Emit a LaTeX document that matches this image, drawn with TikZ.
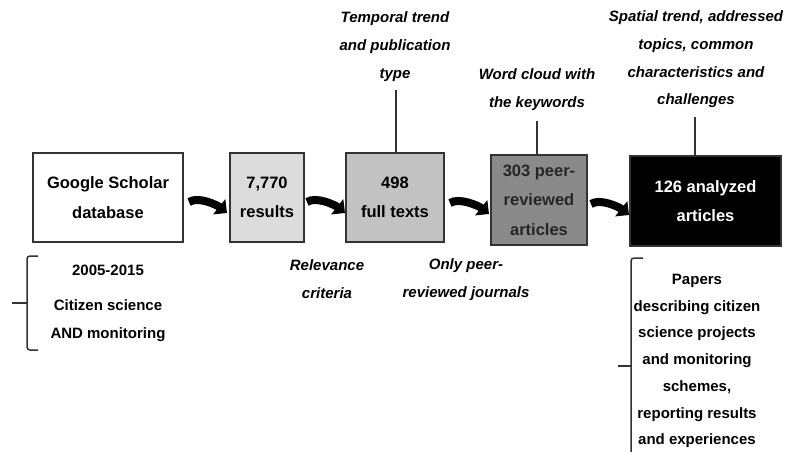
\documentclass[tikz,border=0pt]{standalone}
\usepackage{fontspec}
\setmainfont{Liberation Sans}
\usetikzlibrary{arrows.meta}
\definecolor{boxline}{HTML}{333333}
\definecolor{fillA}{HTML}{DCDCDC}
\definecolor{fillB}{HTML}{C2C2C2}
\definecolor{fillC}{HTML}{8A8A8A}
\tikzset{
  flowbox/.style={draw=boxline, line width=1.5pt, inner sep=0pt, align=center,
    font=\fontsize{16.5}{29.5}\selectfont\bfseries},
  note/.style={align=center, inner sep=0pt, font=\fontsize{15}{28}\selectfont\bfseries\itshape},
  plainnote/.style={align=center, inner sep=0pt, font=\fontsize{15}{28}\selectfont\bfseries},
  bentarrow/.style={line width=8pt, -{Triangle[length=10pt,width=19pt]}},
  stem/.style={line width=1.2pt, draw=boxline},
  bracket/.style={line width=1.5pt, draw=boxline, rounded corners=3pt}
}
\begin{document}
\begin{tikzpicture}[x=1pt,y=-1pt]
\useasboundingbox (0,0) rectangle (785,452);
% boxes
\node[flowbox, minimum width=150pt, minimum height=89pt] (b1) at (108,197.5) {Google Scholar\\database};
\node[flowbox, fill=fillA, minimum width=74pt, minimum height=89pt] (b2) at (267,197.5) {7,770\\results};
\node[flowbox, fill=fillB, minimum width=98pt, minimum height=89pt] (b3) at (395,197.5) {498\\full texts};
\node[flowbox, fill=fillC, text=black!85, minimum width=96pt, minimum height=90pt] (b4) at (539,200) {303 peer-\\reviewed\\articles};
\node[flowbox, fill=black, text=white, minimum width=151pt, minimum height=90pt] (b5) at (705.5,201) {126 analyzed\\articles};
% top notes
\node[note] (t3) at (395,46.5) {Temporal trend\\and publication\\type};
\node[note] (t4) at (537,90) {Word cloud with\\the keywords};
\node[note, font=\fontsize{15}{27.7}\selectfont\bfseries\itshape] (t5) at (696,59.5) {Spatial trend, addressed\\topics, common\\characteristics and\\challenges};
\coordinate (l3) at (396,90);
\coordinate (l4) at (537,121);
\coordinate (l5) at (695,117);
\draw[stem] (b3.north -| l3) -- (l3);
\draw[stem] (b4.north -| l4) -- (l4);
\draw[stem] (b5.north -| l5) -- (l5);
% bottom notes
\node[note] (n2) at (327,279) {Relevance\\criteria};
\node[note] (n3) at (466,279.5) {Only peer-\\reviewed journals};
\node[plainnote] (d1) at (108,270) {2005-2015};
\node[plainnote] (d2) at (108,321) {Citizen science\\AND monitoring};
\node[plainnote, font=\fontsize{15}{26.7}\selectfont\bfseries] (d5) at (697,361) {Papers\\describing citizen\\science projects\\and monitoring\\schemes,\\reporting results\\and experiences};
% bent arrows
\coordinate (a1s) at (189,202); \coordinate (a1e) at (227,213);
\coordinate (a2s) at (307,202); \coordinate (a2e) at (345,213);
\coordinate (a3s) at (450,203); \coordinate (a3e) at (489,214);
\coordinate (a4s) at (591,204); \coordinate (a4e) at (629,215);
\foreach \s/\e in {a1s/a1e,a2s/a2e,a3s/a3e,a4s/a4e}{
  \draw[bentarrow] (\s) .. controls +(9,-6) and +(-10,-8) .. (\e);
}
% brackets
\draw[bracket] (38,256) -- (27,256) -- (27,350) -- (38,350);
\draw[line width=1.5pt, draw=boxline] (12,303) -- (27,303);
\draw[bracket] (643,258) -- (631,258) -- (631,460);
\draw[line width=1.5pt, draw=boxline] (618,366) -- (631,366);
\end{tikzpicture}
\end{document}
